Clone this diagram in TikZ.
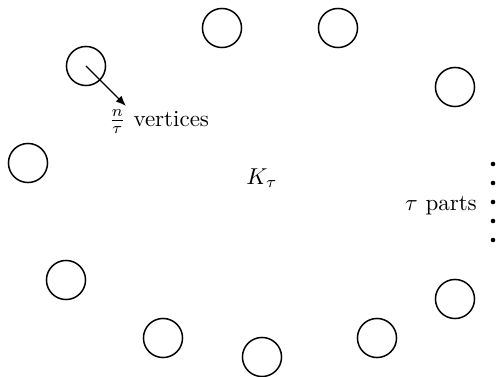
\documentclass[tikz,border=0pt]{standalone}
\usepackage{amsmath,amssymb}
\usetikzlibrary{arrows.meta,positioning}
\tikzset{
  part/.style={draw,circle,line width=0.65pt,minimum size=17pt,inner sep=0pt},
  partdot/.style={fill,circle,inner sep=0pt,minimum size=2pt}
}

\begin{document}
\begin{tikzpicture}[x=0.435pt,y=-0.435pt]
  \useasboundingbox (0,0) rectangle (497,377);
  % the tau parts
  \foreach \i/\px/\py in {1/86/66,2/222/28,3/338/28,4/455/87,5/28/163,
                          6/66/280,7/163/338,8/262/357,9/377/338,10/455/299}
    \node[part] (part\i) at (\px,\py) {};
  \coordinate (tip) at (126,106);
  \draw[-{Latex[length=4.5pt,width=3.6pt]},line width=0.6pt] (part1.center) -- (tip);
  \node (vert) at (159,122) {$\frac{n}{\tau}$ vertices};
  \node (K) at (262,178) {$K_\tau$};
  \node (parts) at (441,206) {$\tau$ parts};
  \foreach \j/\py in {1/164,2/183,3/202,4/221,5/240}
    \node[partdot] (dot\j) at (493,\py) {};
\end{tikzpicture}
\end{document}
